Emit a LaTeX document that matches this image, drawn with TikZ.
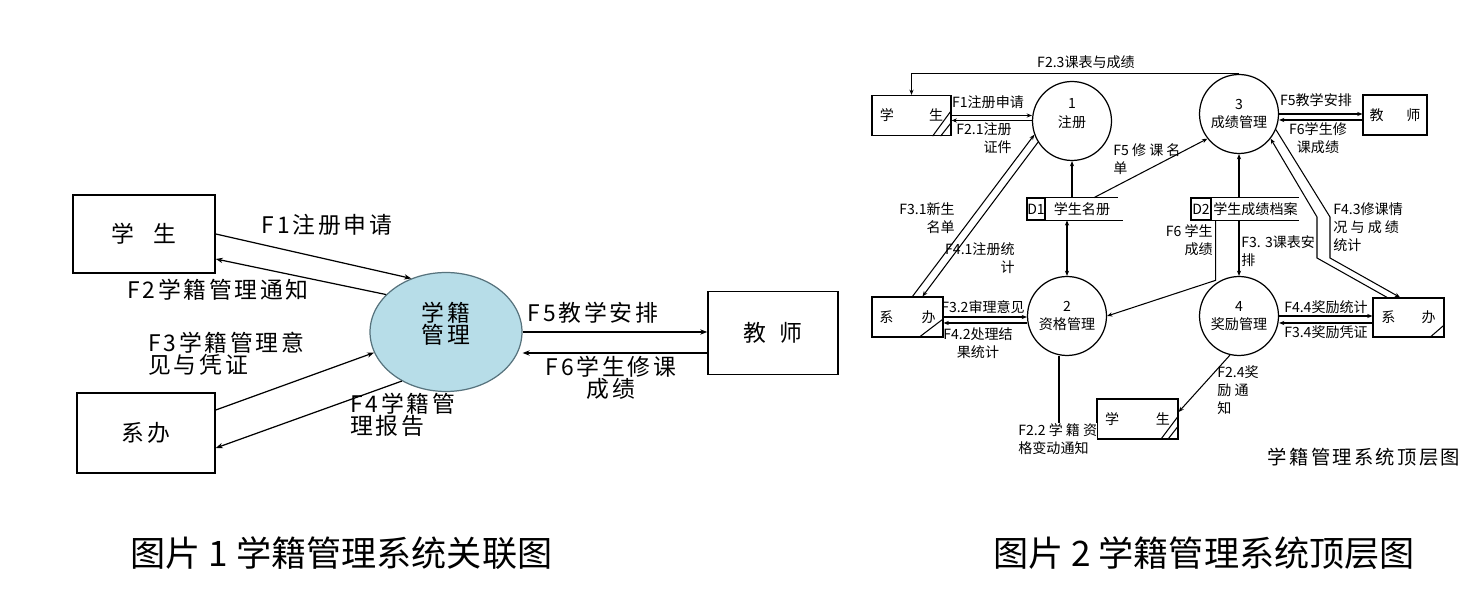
\documentclass[tikz,border=0pt]{standalone}
\usepackage{fontspec}
\setmainfont{Noto Sans CJK SC}
\newfontfamily\wide[LetterSpace=12]{Noto Sans CJK SC}
\usetikzlibrary{arrows.meta, positioning, shapes.geometric}
\definecolor{procBlue}{HTML}{B7DDE8}
\definecolor{procEdge}{HTML}{57737D}

\begin{document}
\begin{tikzpicture}[x=0.02cm, y=-0.02cm,
  ent/.style={draw, line width=0.9pt, inner sep=0pt, font=\wide\fontsize{13}{13}\selectfont},
  proc/.style={ellipse, draw=procEdge, line width=0.7pt, fill=procBlue, inner sep=0pt,
    minimum width=3.04cm, minimum height=2.38cm, align=center, text depth=11pt,
    font=\wide\fontsize{13}{12.5}\selectfont},
  lbl/.style={inner sep=0pt, align=left, font=\wide\fontsize{13}{12.5}\selectfont},
  arr/.style={-{Stealth[length=4pt, width=3pt]}, line width=0.7pt},
  sbox/.style={draw, line width=0.7pt, inner sep=0pt, minimum width=1.58cm,
    minimum height=0.8cm, font=\fontsize{8}{10}\selectfont},
  pc/.style={circle, draw, line width=0.7pt, inner sep=0pt, minimum size=1.58cm,
    align=center, font=\fontsize{8}{10.5}\selectfont},
  storeid/.style={draw, line width=0.7pt, inner sep=0pt, minimum width=0.36cm,
    minimum height=0.44cm, font=\fontsize{8}{10}\selectfont},
  storename/.style={inner sep=0pt, minimum height=0.44cm, font=\fontsize{8}{10}\selectfont},
  slbl/.style={inner sep=0pt, font=\fontsize{8}{10.3}\selectfont},
  sarr/.style={-{Stealth[length=3pt, width=2.4pt]}, line width=0.6pt}
]
\useasboundingbox (0,0) rectangle (1480,590);

% context diagram
\node[ent, minimum width=2.84cm, minimum height=1.56cm] (stuA) at (144,234) {学\hspace{0.85em}生};
\node[ent, minimum width=2.76cm, minimum height=1.6cm] (offA) at (146,433) {系办};
\node[proc] (mgmt) at (446,332) {学籍\\管理};
\node[ent, minimum width=2.6cm, minimum height=1.66cm] (tchA) at (773,333) {教\hspace{0.6em}师};

\draw[arr] (stuA.east) -- (mgmt.123);
\draw[arr] (mgmt.148) -- ([yshift=-0.5cm]stuA.east);
\draw[arr] ([yshift=0.46cm]offA.east) -- (mgmt.196);
\draw[arr] (mgmt.228) -- ([yshift=-0.3cm]offA.east);
\draw[arr] (mgmt.east) -- (mgmt.east -| tchA.west);
\draw[arr] ([yshift=-0.4cm]tchA.west) -- ([yshift=-0.4cm]tchA.west -| mgmt.east);

\node[lbl] (f1) at (327,225) {F1注册申请};
\node[lbl] (f2) at (218,290) {F2学籍管理通知};
\node[lbl, anchor=west] (f3) at (148,354) {F3学籍管理意\\见与凭证};
\node[lbl, anchor=west] (f4) at (350,415) {F4学籍管\\理报告};
\node[lbl] (f5) at (593,313) {F5教学安排};
\node[lbl, align=center] (f6) at (611,378) {F6学生修课\\成绩};

% top level diagram
\node[sbox] (stuB) at (911.5,115.5) {学\hspace{20pt}生};
\node[sbox, minimum width=1.42cm] (offB) at (907.5,317) {系\hspace{16pt}办};
\node[sbox, minimum width=1.28cm] (tchB) at (1395,115) {教\hspace{13pt}师};
\node[sbox, minimum width=1.42cm, minimum height=0.78cm] (offC) at (1408.5,317.5) {系\hspace{15pt}办};
\node[sbox, minimum width=1.62cm] (stuC) at (1137.5,419) {学\hspace{21pt}生};

\draw[line width=0.6pt] ([xshift=-0.38cm]stuB.south east) -- ++(19,-26)
  ([xshift=-0.22cm]stuB.south east) -- ++(11,-14);
\draw[line width=0.6pt] ([xshift=-0.5cm]offB.south east) -- ++(25,-19);
\draw[line width=0.6pt] ([xshift=-0.3cm]offC.south east) -- ++(15,-13);
\draw[line width=0.6pt] ([xshift=-0.36cm]stuC.south east) -- ++(18,-24)
  ([xshift=-0.22cm]stuC.south east) -- ++(11,-14);

\node[pc, text depth=9pt] (c1) at (1072,121) {1\\注册};
\node[pc] (c2) at (1067,316) {2\\资格管理};
\node[pc] (c3) at (1239,114) {3\\成绩管理};
\node[pc] (c4) at (1239,316) {4\\奖励管理};

\node[storeid] (d1id) at (1036,209) {D1};
\node[storename, minimum width=1.44cm, right=0pt of d1id] (d1) {学生名册};
\draw[line width=0.7pt] (d1.north west) -- (d1.north east)
  (d1.south west) -- ([xshift=0.1cm]d1.south east);
\node[storeid, minimum width=0.4cm] (d2id) at (1201,209) {D2};
\node[storename, minimum width=1.74cm, right=0pt of d2id] (d2) {学生成绩档案};
\draw[line width=0.7pt] (d2.north west) -- (d2.north east)
  (d2.south west) -- (d2.south east);

\draw[sarr] (c3.north) -| (stuB.north);
\draw[sarr] (stuB.east) -- (stuB.east -| c1.west);
\draw[sarr] ([yshift=-0.1cm]stuB.east -| c1.west) -- ([yshift=-0.1cm]stuB.east);
\draw[sarr] ([xshift=0.1cm]offB.north) -- (c1.200);
\draw[sarr] (c1.212) -- ([xshift=0.3cm]offB.north);
\draw[sarr] (offB.east) -- (offB.east -| c2.west);
\draw[sarr] ([yshift=-0.12cm]offB.east -| c2.west) -- ([yshift=-0.12cm]offB.east);
\draw[sarr] (c1.south |- d1.north) -- (c1.south);
\draw[sarr, {Stealth[length=3pt, width=2.4pt]}-{Stealth[length=3pt, width=2.4pt]}]
  (c2.north |- d1.south) -- (c2.north);
\draw[sarr] ([xshift=0.24cm]d1.north) -- (c3.218);
\draw[sarr] (c3.south |- d2.north) -- (c3.south);
\draw[sarr] (c4.north |- d2.south) -- (c4.north);
\draw[sarr] ([xshift=0.08cm]d2.south west) -- ++(0,60) -- (c2.east);
\draw[sarr] (c3.east) -- (c3.east -| tchB.west);
\draw[sarr] ([yshift=-0.12cm]c3.east -| tchB.west) -- ([yshift=-0.12cm]c3.east);
\draw[sarr] (c3.337) -- (1330,217) -- (1330,258) -- ([xshift=-0.17cm]offC.north);
\draw[sarr] ([xshift=-0.43cm]offC.north) -- (1317,258) -- (1317,217) -- (c3.322);
\draw[sarr] (c4.east) -- (c4.east -| offC.west);
\draw[sarr] ([yshift=-0.14cm]c4.east -| offC.west) -- ([yshift=-0.14cm]c4.east);
\draw[sarr] ([xshift=-0.16cm]c2.south) |- ([yshift=-0.22cm]stuC.west);
\draw[sarr] (c4.257) -- ([yshift=0.14cm]stuC.east);

\node[slbl] (l23) at (1086,62) {F2.3课表与成绩};
\node[slbl] (l1) at (988,102) {F1注册申请};
\node[slbl, anchor=east, align=right] (l21) at (1012,138) {F2.1注册\\证件};
\node[slbl, anchor=east, align=right] (l31) at (955,218.5) {F3.1新生\\名单};
\node[slbl, anchor=east, align=right] (l41) at (1015,258.5) {F4.1注册统\\计};
\node[slbl] (l32) at (983,307) {F3.2审理意见};
\node[slbl, align=center] (l42) at (978,343.5) {F4.2处理结\\果统计};
\node[slbl, anchor=west, align=left] (l5b) at (1113,159) {F5 修 课 名\\单};
\node[slbl, anchor=east, align=right] (l6b) at (1213,240) {F6 学生\\成绩};
\node[slbl, anchor=west, align=left] (l33) at (1241,251.5) {F3. 3课表安\\排};
\node[slbl] (l5) at (1316,100) {F5教学安排};
\node[slbl, align=center] (l6) at (1318,138.5) {F6学生修\\课成绩};
\node[slbl, anchor=west, align=left] (l43) at (1333,227) {F4.3修课情\\况 与 成 绩\\统计};
\node[slbl] (l44) at (1326,307) {F4.4奖励统计};
\node[slbl] (l34) at (1326,332) {F3.4奖励凭证};
\node[slbl, anchor=west, align=left] (l24) at (1217,390.5) {F2.4奖\\励 通\\知};
\node[slbl, anchor=west, align=left, fill=white] (l22) at (1018,439) {F2.2 学 籍 资\\格变动通知};
\node[inner sep=0pt, font=\wide\fontsize{11}{11}\selectfont] (ttl) at (1364,457) {学籍管理系统顶层图};

\node[inner sep=0pt, font=\fontsize{20}{20}\selectfont] (cap1) at (341.5,553) {图片 1 学籍管理系统关联图};
\node[inner sep=0pt, font=\fontsize{20}{20}\selectfont] (cap2) at (1204,553) {图片 2 学籍管理系统顶层图};
\end{tikzpicture}
\end{document}
